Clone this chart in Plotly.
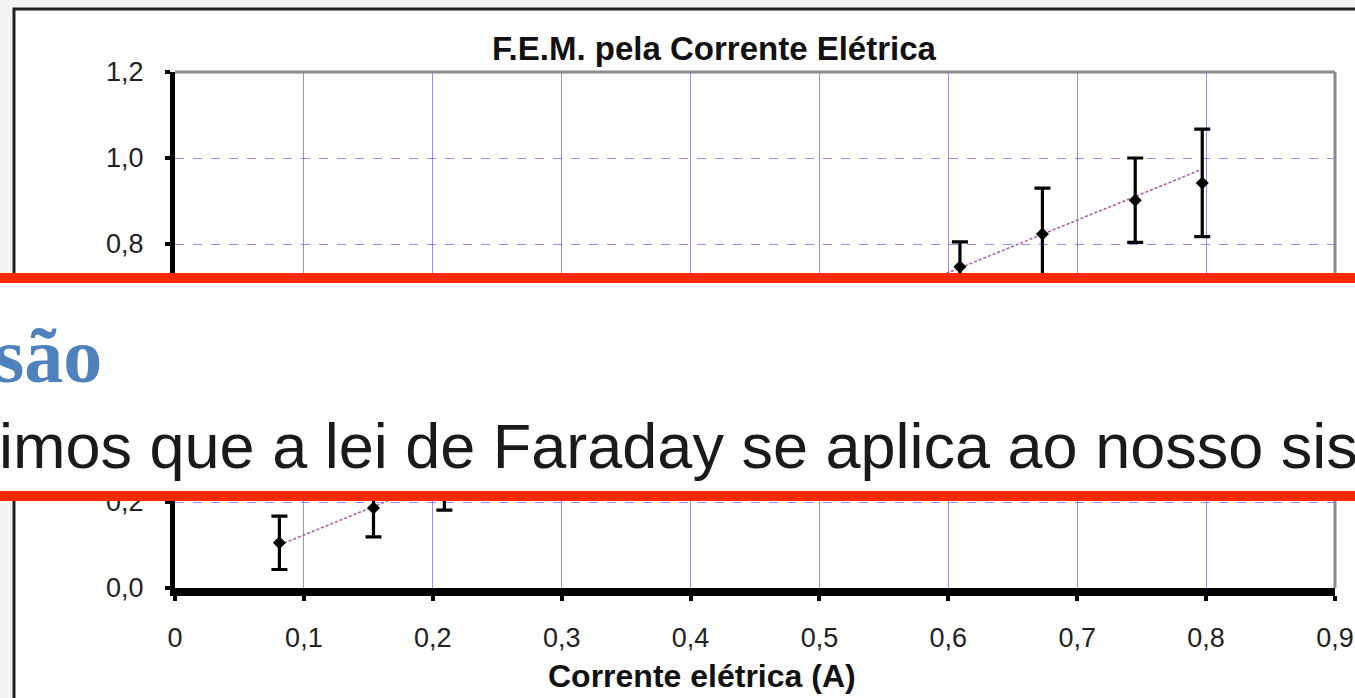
import plotly.graph_objects as go

# Measured EMF against current, with uncertainty on each reading
current_a = [0.081, 0.154, 0.209, 0.537, 0.609, 0.673, 0.745, 0.797]
fem_v = [0.105, 0.186, 0.26, 0.655, 0.747, 0.823, 0.902, 0.942]
fem_err = [0.062, 0.067, 0.079, 0.065, 0.058, 0.107, 0.098, 0.125]

# Least-squares line through the readings (end points)
fit_x = [0.081, 0.797]
fit_y = [0.100, 0.974]

x_ticks = [0, 0.1, 0.2, 0.3, 0.4, 0.5, 0.6, 0.7, 0.8, 0.9]
x_labels = ["0", "0,1", "0,2", "0,3", "0,4", "0,5", "0,6", "0,7", "0,8", "0,9"]
y_ticks = [0, 0.2, 0.4, 0.6, 0.8, 1.0, 1.2]
y_labels = ["0,0", "0,2", "0,4", "0,6", "0,8", "1,0", "1,2"]

title_text = "F.E.M. pela Corrente Elétrica"
x_title = "Corrente elétrica (A)"
heading_text = "são"
body_text = "imos que a lei de Faraday se aplica ao nosso sis"

W, H = 1355, 698
L, R, T, B = 175, 1335, 72, 588  # plot area in pixels


def px_x(p):
    return (p - L) / (R - L)


def px_y(p):
    return (B - p) / (B - T)


SANS = "Liberation Sans, Arial, sans-serif"
GRID = "rgba(70,70,255,0.6)"

fig = go.Figure()

fig.add_trace(go.Scatter(
    x=fit_x, y=fit_y, mode="lines",
    line=dict(color="#b060a8", width=1.6, dash="3px,2px"),
    hoverinfo="skip", showlegend=False,
))

fig.add_trace(go.Scatter(
    x=current_a, y=fem_v, mode="markers",
    marker=dict(symbol="diamond", size=10, color="black"),
    error_y=dict(type="data", array=fem_err, visible=True,
                 color="black", thickness=3.2, width=8),
    showlegend=False,
))

shapes = [
    # outer chart frame
    dict(type="rect", xref="paper", yref="paper", layer="below",
         x0=px_x(14), x1=px_x(W + 20), y0=px_y(H + 20), y1=px_y(9),
         fillcolor="white", line=dict(color="#222222", width=3)),
    # top and right borders of the plot area
    dict(type="line", xref="paper", yref="paper", x0=0, x1=1, y0=1, y1=1,
         line=dict(color="#8a8a8a", width=3)),
    dict(type="line", xref="paper", yref="paper", x0=1, x1=1, y0=0, y1=1,
         line=dict(color="#8a8a8a", width=3)),
    # white text strip with red rules
    dict(type="rect", xref="paper", yref="paper", layer="above",
         x0=px_x(-5), x1=px_x(W + 5), y0=px_y(491), y1=px_y(283),
         fillcolor="white", line=dict(width=0)),
    dict(type="rect", xref="paper", yref="paper", layer="above",
         x0=px_x(-5), x1=px_x(W + 5), y0=px_y(283), y1=px_y(273),
         fillcolor="#ff2a00", line=dict(width=0)),
    dict(type="rect", xref="paper", yref="paper", layer="above",
         x0=px_x(-5), x1=px_x(W + 5), y0=px_y(501), y1=px_y(491),
         fillcolor="#ff2a00", line=dict(width=0)),
]

annotations = [
    dict(text=x_title, xref="paper", yref="paper",
         x=px_x(702), y=px_y(676), xanchor="center", yanchor="middle",
         showarrow=False, font=dict(family=SANS, size=32, color="#111111", weight="bold")),
    dict(text=f"<b>{heading_text}</b>", xref="paper", yref="paper",
         x=px_x(104), y=px_y(355), xanchor="right", yanchor="middle",
         showarrow=False,
         font=dict(family="Liberation Serif, Times New Roman, serif", size=78, color="#4f81bd")),
    dict(text=body_text, xref="paper", yref="paper",
         x=px_x(-3), y=px_y(446), xanchor="left", yanchor="middle",
         showarrow=False, font=dict(family=SANS, size=63, color="#1a1a1a")),
]

fig.update_layout(
    width=W, height=H,
    margin=dict(l=L, r=W - R, t=T, b=H - B, autoexpand=False),
    paper_bgcolor="#f4f4f4",
    plot_bgcolor="white",
    title=dict(text=f"<b>{title_text}</b>", xref="paper", x=px_x(714), xanchor="center",
               yref="container", y=1 - 48 / H, yanchor="middle",
               font=dict(family=SANS, size=33, color="#111111")),
    shapes=shapes,
    annotations=annotations,
    showlegend=False,
)

fig.update_xaxes(
    range=[0, 0.9], tickmode="array", tickvals=x_ticks, ticktext=x_labels,
    showgrid=True, gridcolor=GRID, gridwidth=1,
    showline=True, linecolor="black", linewidth=8,
    ticks="outside", ticklen=5, tickwidth=4, tickcolor="black",
    ticklabelstandoff=14,
    tickfont=dict(family=SANS, size=27, color="#222222"),
    zeroline=False, fixedrange=True,
)
fig.update_yaxes(
    range=[0, 1.2], tickmode="array", tickvals=y_ticks, ticktext=y_labels,
    showgrid=True, gridcolor=GRID, gridwidth=1, griddash="dash",
    showline=True, linecolor="black", linewidth=5,
    ticks="outside", ticklen=5, tickwidth=4, tickcolor="black",
    ticklabelstandoff=16,
    tickfont=dict(family=SANS, size=27, color="#222222"),
    zeroline=False, fixedrange=True,
)

fig.write_html("out.html", config={"displayModeBar": False})
